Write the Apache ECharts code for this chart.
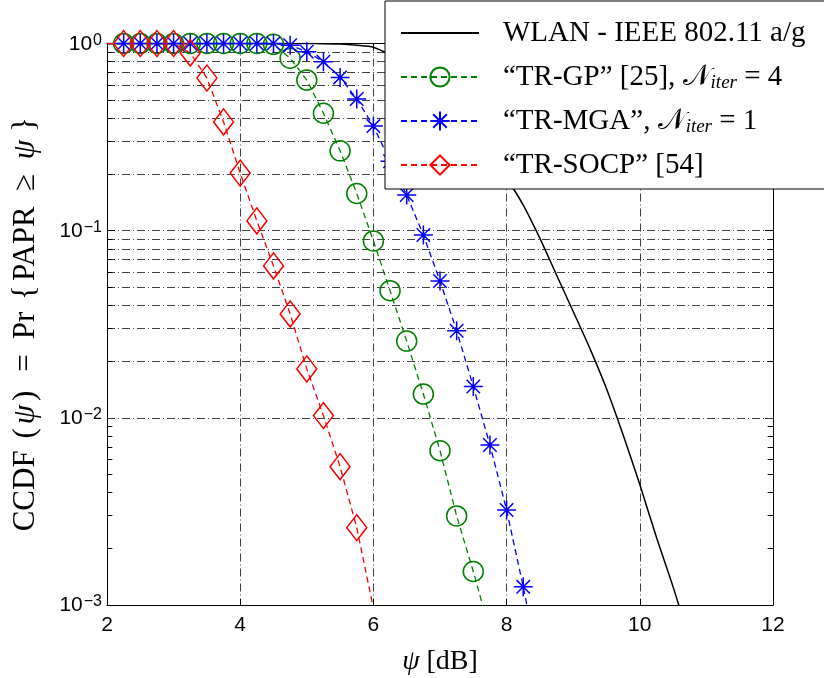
<!DOCTYPE html>
<html><head><meta charset="utf-8">
<script src="https://cdn.jsdelivr.net/npm/echarts@6/dist/echarts.min.js"></script>
<style>html,body{margin:0;padding:0;background:#fff}#c{width:824px;height:678px}</style>
</head><body><div id="c"></div>
<script>
// ---- data (psi in dB, CCDF values) ----
const psi = [2.00,2.25,2.50,2.75,3.00,3.25,3.50,3.75,4.00,4.25,4.50,4.75,5.00,5.25,5.50,5.75,6.00,6.25,6.50,6.75,7.00,7.25,7.50,7.75,8.00,8.25,8.50,8.75,9.00,9.25,9.50,9.75,10.00,10.25,10.50,10.75];
const ccdfWLAN = [1,1,1,1,1,1,1,1,1,1,1,1,1,0.998,0.993,0.978,0.955,0.87,0.775,0.66,0.545,0.43,0.33,0.25,0.19,0.137,0.091,0.058,0.037,0.0235,0.0143,0.0081,0.0044,0.0023,0.00125,0.00064];
const ccdfGP   = [1,1,1,1,1,1,1,1,1,1,0.99,0.834,0.638,0.424,0.267,0.158,0.0881,0.0478,0.0257,0.0134,0.00668,0.00299,0.00151,0.00072];
const ccdfMGA  = [1,1,1,1,1,1,1,1,1,1,1,0.98,0.904,0.80,0.659,0.505,0.362,0.235,0.155,0.0948,0.0538,0.0292,0.0147,0.00716,0.00322,0.00125,0.00045];
const ccdfSOCP = [1,1,1,1,1,0.89,0.654,0.381,0.203,0.1127,0.0648,0.0359,0.01825,0.01028,0.00548,0.00259,0.00096];
const seriesNames = ['WLAN - IEEE 802.11 a/g','TR-GP','TR-MGA','TR-SOCP'];
const legendLabels = [
  'WLAN - IEEE 802.11 a/g',
  '“TR-GP” [25], {n|𝒩}{s|iter} = 4',
  '“TR-MGA”, {n|𝒩}{s|iter} = 1',
  '“TR-SOCP” [54]'
];
const xTicks = [2,4,6,8,10,12];
const yMin = 0.001, yMax = 1;
const yMinor = [];
[0.001,0.01,0.1].forEach(d => { for (let k = 2; k <= 9; k++) yMinor.push(+(d*k).toPrecision(3)); });

const serif = '"Liberation Serif","Times New Roman",serif';
const sans = '"Liberation Sans",Arial,sans-serif';
const dashDot = [8,3,1,3];

function pts(ys) {
  return ys.map((v,i) => i === 0 ? {value:[psi[i], v], symbol:'none'} : [psi[i], v]);
}
const asterisk = 'path://M10,0 L10,20 M0,10 L20,10 M2.93,2.93 L17.07,17.07 M2.93,17.07 L17.07,2.93';

const chart = echarts.init(document.getElementById('c'), null, {renderer:'canvas'});
const minorTickLines = [];
yMinor.forEach(v => {
  minorTickLines.push([{coord:[2, v]}, {coord:[2.08, v]}]);
  minorTickLines.push([{coord:[11.92, v]}, {coord:[12, v]}]);
});

const titleRich = {
  i: {fontFamily: serif, fontSize: 31, fontStyle: 'italic', color:'#000'},
  r: {fontFamily: serif, fontSize: 31, color:'#000', padding: [0, 15, 0, 15]},
  g: {fontFamily: serif, fontSize: 31, color:'#000', padding: [0, 4, 0, 4]}
};

chart.setOption({
  animation: false,
  backgroundColor: '#fff',
  grid: {left: 107, right: 51, top: 43.5, bottom: 73, containLabel: false, outerBoundsMode: 'none'},
  xAxis: [{
    type: 'value', min: xTicks[0], max: xTicks[xTicks.length-1], interval: 2,
    position: 'bottom',
    name: '{i|ψ} [dB]', nameLocation: 'middle', nameGap: 43,
    nameTextStyle: {fontFamily: serif, fontSize: 28, color: '#000', rich: {i: {fontFamily: serif, fontSize: 28, fontStyle: 'italic', color:'#000'}}},
    axisLine: {show: true, onZero: false, lineStyle: {color: '#000', width: 1}},
    axisTick: {show: true, inside: true, length: 6, lineStyle: {color:'#000'}},
    axisLabel: {fontFamily: sans, fontSize: 21, color: '#000', margin: 10},
    splitLine: {show: true, lineStyle: {color: '#404040', width: 1, type: dashDot}}
  },{
    type: 'value', min: 2, max: 12, interval: 2, position: 'top',
    axisLine: {show: true, onZero: false, lineStyle: {color: '#000', width: 1}},
    axisTick: {show: true, inside: true, length: 6, lineStyle: {color:'#000'}},
    axisLabel: {show: false}, splitLine: {show: false}
  }],
  yAxis: [{
    type: 'log', logBase: 10, min: yMin, max: yMax, position: 'left',
    name: 'CCDF {g|(}{i|ψ}{g|)}{r|=}Pr {g|{}PAPR{r|≥}{i|ψ}{g|}}', nameLocation: 'middle', nameGap: 66,
    nameTextStyle: {fontFamily: serif, fontSize: 31, color: '#000', rich: titleRich},
    axisLine: {show: true, onZero: false, lineStyle: {color: '#000', width: 1}},
    axisTick: {show: true, inside: true, length: 8, lineStyle: {color:'#000'}},
    axisLabel: {
      margin: 5,
      formatter: v => { const e = Math.round(Math.log10(v)); return '{b|10}{s|' + (e < 0 ? '−' + (-e) : e) + '}'; },
      rich: {
        b: {fontFamily: sans, fontSize: 21, color: '#000', lineHeight: 22, verticalAlign: 'bottom'},
        s: {fontFamily: sans, fontSize: 16, color: '#000', lineHeight: 16, verticalAlign: 'top', padding: [0,0,12,1]}
      }
    },
    splitLine: {show: true, lineStyle: {color: '#404040', width: 1, type: dashDot}}
  },{
    type: 'log', logBase: 10, min: yMin, max: yMax, position: 'right',
    axisLine: {show: true, onZero: false, lineStyle: {color: '#000', width: 1}},
    axisTick: {show: true, inside: true, length: 8, lineStyle: {color:'#000'}},
    axisLabel: {show: false}, splitLine: {show: false}
  }],
  legend: {
    data: seriesNames, orient: 'vertical', left: 385, top: 1, z: 20,
    itemWidth: 78, itemHeight: 24, itemGap: 14,
    padding: [17, 80, 9, 15],
    backgroundColor: '#fff', borderColor: '#000', borderWidth: 1, borderRadius: 0,
    formatter: name => legendLabels[seriesNames.indexOf(name)],
    textStyle: {
      fontFamily: serif, fontSize: 29, color: '#000', lineHeight: 30, padding: [0,0,0,19],
      rich: {
        n: {fontFamily: serif, fontSize: 29, color: '#000', lineHeight: 30},
        s: {fontFamily: serif, fontSize: 19, fontStyle: 'italic', color: '#000', lineHeight: 18, verticalAlign: 'bottom'}
      }
    },
    selectedMode: false
  },
  series: [
    {
      type: 'line', name: '_grid', data: [], silent: true, xAxisIndex: 0, yAxisIndex: 0, z: 1,
      markLine: {silent: true, symbol: 'none', animation: false, label: {show: false}, z: 1,
        lineStyle: {color: '#404040', width: 1, type: dashDot},
        data: yMinor.map(v => ({yAxis: v}))}
    },
    {
      type: 'line', name: '_ticks', data: [], silent: true, xAxisIndex: 0, yAxisIndex: 0, z: 1,
      markLine: {silent: true, symbol: 'none', animation: false, label: {show: false}, z: 1,
        lineStyle: {color: '#000', width: 1, type: 'solid'},
        data: minorTickLines}
    },
    {
      type: 'line', name: seriesNames[0], data: ccdfWLAN.map((v,i) => [psi[i], v]),
      symbol: 'none', showSymbol: false, smooth: 0.25, clip: true,
      lineStyle: {color: '#000', width: 1.5, type: 'solid'},
      itemStyle: {color: 'rgba(0,0,0,0)', borderWidth: 0}
    },
    {
      type: 'line', name: seriesNames[1], data: pts(ccdfGP), clip: true,
      symbol: 'circle', symbolSize: 20, showSymbol: true,
      lineStyle: {color: '#008000', width: 1.3, type: [6,4]},
      itemStyle: {color: 'rgba(0,0,0,0)', borderColor: '#008000', borderWidth: 1.5}
    },
    {
      type: 'line', name: seriesNames[2], data: pts(ccdfMGA), clip: true,
      symbol: asterisk, symbolSize: 19, showSymbol: true,
      lineStyle: {color: '#0000ff', width: 1.3, type: [6,4]},
      itemStyle: {color: 'rgba(0,0,0,0)', borderColor: '#0000ff', borderWidth: 1.5}
    },
    {
      type: 'line', name: seriesNames[3], data: pts(ccdfSOCP), clip: true,
      symbol: 'diamond', symbolSize: [20, 26], showSymbol: true,
      lineStyle: {color: '#ff0000', width: 1.3, type: [6,4]},
      itemStyle: {color: 'rgba(0,0,0,0)', borderColor: '#ff0000', borderWidth: 1.5}
    }
  ]
});
</script>
</body></html>
